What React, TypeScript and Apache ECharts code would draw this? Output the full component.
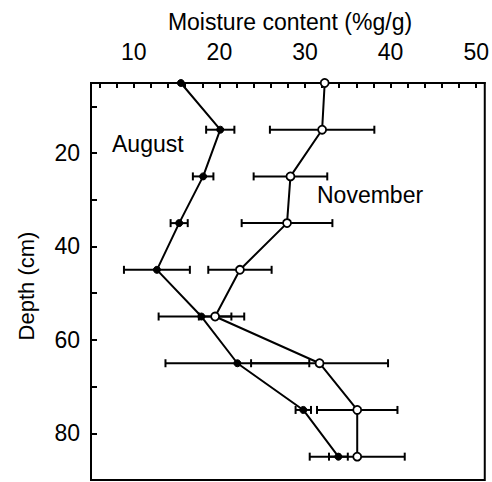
import React, { useEffect, useRef } from "react";
import * as echarts from "echarts";

// Sampling depths (cm)
const depths = [5, 15, 25, 35, 45, 55, 65, 75, 85];

// Mean moisture content (% g/g) and half-width of the error bars
const augustMean = [15.5, 20.1, 18.1, 15.3, 12.7, 17.9, 22.1, 29.8, 33.9];
const augustErr = [0, 1.65, 1.2, 1.0, 3.85, 5.0, 8.4, 0.9, 1.1];
const novemberMean = [32.3, 32.0, 28.3, 27.9, 22.4, 19.5, 31.7, 36.1, 36.1];
const novemberErr = [0, 6.1, 4.3, 5.3, 3.7, 1.9, 8.0, 4.7, 5.55];

// Axis ticks and labels
const moistureTicks = [6, 8, 10, 12, 14, 16, 18, 20, 22, 24, 26, 28, 30, 32, 34, 36, 38, 40, 42, 44, 46, 48, 50];
const moistureLabels = [10, 20, 30, 40, 50];
const depthTicks = [10, 20, 30, 40, 50, 60, 70, 80];
const depthLabels = [20, 40, 60, 80];

const FONT = "Liberation Sans, Arial, sans-serif";

function errorBarRender(params: any, api: any) {
  const low = api.value(0);
  const high = api.value(1);
  const d = api.value(2);
  if (high - low <= 0) return null;
  const p1 = api.coord([low, d]);
  const p2 = api.coord([high, d]);
  const cap = 4;
  const style = { stroke: "#000", lineWidth: 2 };
  return {
    type: "group",
    children: [
      { type: "line", shape: { x1: p1[0], y1: p1[1], x2: p2[0], y2: p2[1] }, style },
      { type: "line", shape: { x1: p1[0], y1: p1[1] - cap, x2: p1[0], y2: p1[1] + cap }, style },
      { type: "line", shape: { x1: p2[0], y1: p2[1] - cap, x2: p2[0], y2: p2[1] + cap }, style },
    ],
  };
}

export default function App() {
  const ref = useRef<HTMLDivElement>(null);

  useEffect(() => {
    if (!ref.current) return;
    const chart = echarts.init(ref.current, null, { renderer: "svg" });

    const augustPts = depths.map((d, i) => [augustMean[i], d]);
    const novemberPts = depths.map((d, i) => [novemberMean[i], d]);
    const augustBars = depths.map((d, i) => [augustMean[i] - augustErr[i], augustMean[i] + augustErr[i], d]);
    const novemberBars = depths.map((d, i) => [novemberMean[i] - novemberErr[i], novemberMean[i] + novemberErr[i], d]);

    chart.setOption({
      animation: false,
      backgroundColor: "#fff",
      grid: {
        left: 91,
        right: 3,
        top: 83,
        bottom: 2,
        show: true,
        borderColor: "#000",
        borderWidth: 2,
      },
      xAxis: {
        type: "value",
        position: "top",
        min: 5,
        max: 51,
        axisLine: { show: true, lineStyle: { color: "#000", width: 2 } },
        axisTick: {
          show: true,
          inside: true,
          length: 5,
          customValues: moistureTicks,
          lineStyle: { color: "#000", width: 2 },
        },
        axisLabel: {
          customValues: moistureLabels,
          color: "#000",
          fontSize: 23,
          fontFamily: FONT,
          margin: 20,
        },
        splitLine: { show: false },
      },
      yAxis: {
        type: "value",
        inverse: true,
        min: 5,
        max: 90,
        axisLine: { show: true, lineStyle: { color: "#000", width: 2 } },
        axisTick: {
          show: true,
          inside: true,
          length: 6,
          customValues: depthTicks,
          lineStyle: { color: "#000", width: 2 },
        },
        axisLabel: {
          customValues: depthLabels,
          color: "#000",
          fontSize: 23,
          fontFamily: FONT,
          margin: 11,
        },
        splitLine: { show: false },
      },
      graphic: [
        {
          type: "text",
          x: 290,
          y: 22,
          style: {
            text: "Moisture content (%g/g)",
            fontSize: 23,
            fontFamily: FONT,
            fill: "#000",
            align: "center",
            verticalAlign: "middle",
          },
        },
        {
          type: "text",
          x: 26,
          y: 286,
          rotation: Math.PI / 2,
          style: {
            text: "Depth (cm)",
            fontSize: 22,
            fontFamily: FONT,
            fill: "#000",
            align: "center",
            verticalAlign: "middle",
          },
        },
        {
          type: "text",
          x: 112,
          y: 144,
          style: {
            text: "August",
            fontSize: 23,
            fontFamily: FONT,
            fill: "#000",
            align: "left",
            verticalAlign: "middle",
          },
        },
        {
          type: "text",
          x: 317,
          y: 195,
          style: {
            text: "November",
            fontSize: 23,
            fontFamily: FONT,
            fill: "#000",
            align: "left",
            verticalAlign: "middle",
          },
        },
      ],
      series: [
        {
          name: "August SE",
          type: "custom",
          renderItem: errorBarRender,
          encode: { x: [0, 1], y: 2 },
          data: augustBars,
          clip: false,
          z: 2,
        },
        {
          name: "November SE",
          type: "custom",
          renderItem: errorBarRender,
          encode: { x: [0, 1], y: 2 },
          data: novemberBars,
          clip: false,
          z: 2,
        },
        {
          name: "August",
          type: "line",
          data: augustPts,
          symbol: "circle",
          symbolSize: 7,
          lineStyle: { color: "#000", width: 2 },
          itemStyle: { color: "#000", borderColor: "#000", borderWidth: 1 },
          clip: false,
          z: 3,
        },
        {
          name: "November",
          type: "line",
          data: novemberPts,
          symbol: "circle",
          symbolSize: 8,
          showAllSymbol: true,
          lineStyle: { color: "#000", width: 2 },
          itemStyle: { color: "#fff", borderColor: "#000", borderWidth: 1.8 },
          clip: false,
          z: 3,
        },
      ],
    });

    return () => chart.dispose();
  }, []);

  return (
    <div
      ref={ref}
      style={{ position: "fixed", left: 0, top: 0, width: 492, height: 482, background: "#fff" }}
    />
  );
}
